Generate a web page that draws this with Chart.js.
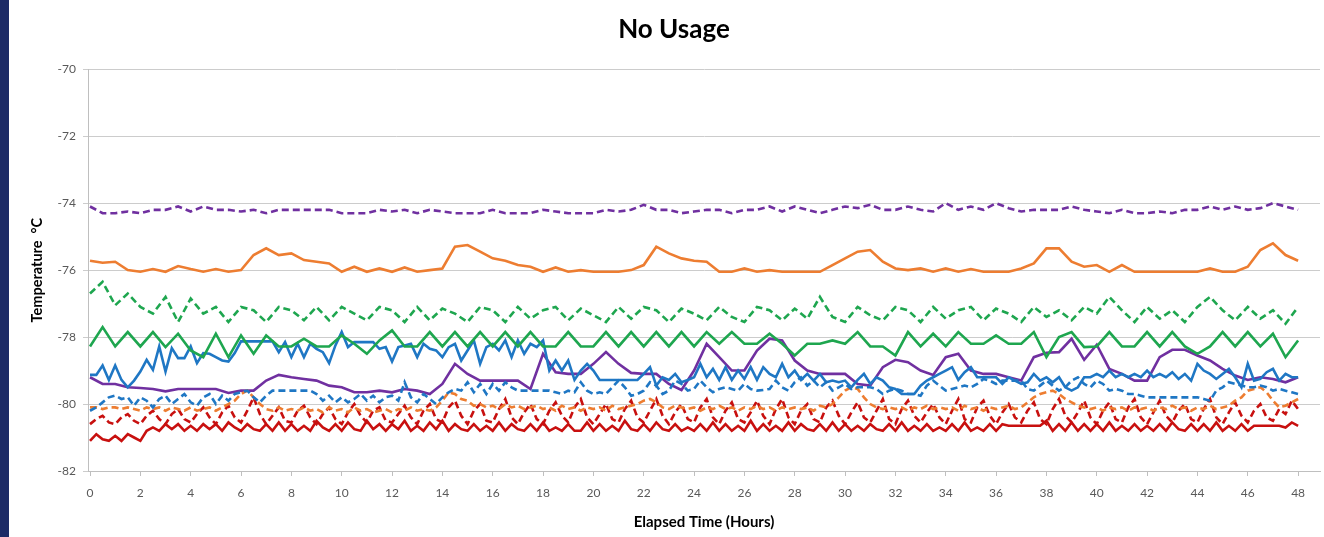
<!DOCTYPE html>
<html>
<head>
<meta charset="utf-8">
<script src="https://cdn.jsdelivr.net/npm/chart.js@4.4.1/dist/chart.umd.min.js"></script>
<style>
html, body { margin: 0; padding: 0; background: #fff; }
#wrap { position: relative; width: 1324px; height: 537px; overflow: hidden; }
#strip { position: absolute; left: 0; top: 0; width: 9px; height: 537px; background: #1c2b66; }
</style>
</head>
<body>
<div id="wrap">
  <canvas id="tempChart" width="1324" height="537"></canvas>
  <div id="strip"></div>
</div>
<script>
// x ticks (hours)
const hourTicks = [0, 2, 4, 6, 8, 10, 12, 14, 16, 18, 20, 22, 24, 26, 28, 30, 32, 34, 36, 38, 40, 42, 44, 46, 48];
const yTicks = [-82, -80, -78, -76, -74, -72, -70];

// series logged every 30 min (0 .. 48 h)
const purpleDash = [
  -74.1, -74.3, -74.3, -74.25, -74.3, -74.2, -74.2, -74.1, -74.25, -74.1,
  -74.2, -74.2, -74.25, -74.2, -74.3, -74.2, -74.2, -74.2, -74.2, -74.2,
  -74.3, -74.3, -74.3, -74.2, -74.25, -74.2, -74.3, -74.2, -74.25, -74.3,
  -74.3, -74.3, -74.2, -74.3, -74.3, -74.3, -74.2, -74.25, -74.3, -74.3,
  -74.3, -74.2, -74.25, -74.2, -74.05, -74.2, -74.2, -74.3, -74.25, -74.2,
  -74.2, -74.3, -74.2, -74.2, -74.1, -74.25, -74.1, -74.2, -74.3, -74.2,
  -74.1, -74.15, -74.05, -74.2, -74.2, -74.1, -74.2, -74.25, -74.0, -74.2,
  -74.1, -74.2, -74.0, -74.15, -74.25, -74.2, -74.2, -74.2, -74.1, -74.2,
  -74.25, -74.3, -74.2, -74.3, -74.3, -74.25, -74.3, -74.2, -74.2, -74.1,
  -74.2, -74.1, -74.2, -74.15, -74.0, -74.1, -74.2
];
const orangeSolid = [
  -75.72, -75.78, -75.75, -76.0, -76.05, -75.97, -76.05, -75.88, -75.97, -76.05,
  -75.97, -76.05, -76.0, -75.55, -75.35, -75.55, -75.5, -75.7, -75.75, -75.8,
  -76.05, -75.9, -76.05, -75.95, -76.05, -75.92, -76.05, -76.0, -75.95, -75.3,
  -75.25, -75.45, -75.65, -75.72, -75.85, -75.9, -76.05, -75.92, -76.05, -76.0,
  -76.05, -76.05, -76.05, -76.0, -75.85, -75.3, -75.5, -75.65, -75.72, -75.75,
  -76.05, -76.05, -75.95, -76.05, -76.0, -76.05, -76.05, -76.05, -76.05, -75.85,
  -75.65, -75.45, -75.4, -75.75, -75.95, -76.0, -75.95, -76.05, -75.95, -76.05,
  -75.97, -76.05, -76.05, -76.05, -75.95, -75.8, -75.35, -75.35, -75.75, -75.9,
  -75.85, -76.05, -75.85, -76.05, -76.05, -76.05, -76.05, -76.05, -76.05, -75.95,
  -76.05, -76.05, -75.9, -75.4, -75.2, -75.55, -75.72
];
const greenDash = [
  -76.7, -76.35, -77.05, -76.7, -77.1, -77.3, -76.8, -77.55, -76.85, -77.3,
  -77.1, -77.55, -77.1, -77.2, -77.55, -77.1, -77.2, -77.5, -77.1, -77.5,
  -77.1, -77.3, -77.5, -77.1, -77.2, -77.55, -77.1, -77.5, -77.15, -77.3,
  -77.55, -77.1, -77.2, -77.55, -77.1, -77.45, -77.2, -77.1, -77.5, -77.15,
  -77.35, -77.55, -77.1, -77.45, -77.1, -77.2, -77.55, -77.15, -77.3, -77.5,
  -77.1, -77.4, -77.55, -77.1, -77.2, -77.5, -77.15, -77.45, -76.8, -77.4,
  -77.55, -77.1, -77.35, -77.5, -77.1, -77.2, -77.55, -77.1, -77.45, -77.2,
  -77.1, -77.5, -77.15, -77.3, -77.55, -77.1, -77.4, -77.2, -77.5, -77.1,
  -77.3, -76.8, -77.2, -77.55, -77.1, -77.45, -77.2, -77.55, -77.1, -76.8,
  -77.2, -77.5, -77.1, -77.45, -77.2, -77.6, -77.1
];
const greenSolid = [
  -78.28, -77.7, -78.28, -77.85, -78.28, -77.85, -78.3, -77.9, -78.4, -78.6,
  -77.9, -78.6, -77.95, -78.5, -77.95, -78.28, -78.28, -78.05, -78.28, -78.28,
  -77.95, -78.2, -78.5, -78.1, -77.8, -78.28, -78.28, -77.85, -78.28, -77.85,
  -78.28, -77.85, -78.28, -77.85, -78.28, -77.85, -78.28, -78.28, -77.85, -78.28,
  -78.28, -77.85, -78.28, -77.85, -78.28, -77.85, -78.28, -77.85, -78.28, -77.85,
  -78.2, -77.85, -78.2, -78.2, -77.9, -78.2, -78.55, -78.2, -78.2, -78.1,
  -78.2, -77.85, -78.28, -78.28, -78.55, -77.85, -78.28, -77.9, -78.28, -77.85,
  -78.2, -78.2, -77.95, -78.2, -78.2, -77.85, -78.6, -78.0, -77.85, -78.3,
  -78.28, -77.85, -78.28, -78.28, -77.85, -78.28, -77.85, -78.28, -78.5, -78.28,
  -77.85, -78.28, -77.85, -78.28, -77.9, -78.6, -78.1
];
const purpleSolid = [
  -79.2, -79.4, -79.4, -79.5, -79.52, -79.55, -79.62, -79.55, -79.55, -79.55,
  -79.55, -79.67, -79.6, -79.6, -79.3, -79.13, -79.2, -79.25, -79.3, -79.45,
  -79.5, -79.65, -79.65, -79.6, -79.65, -79.55, -79.6, -79.7, -79.4, -78.8,
  -79.1, -79.3, -79.3, -79.3, -79.3, -79.55, -78.5, -79.05, -79.1, -79.1,
  -78.8, -78.45, -78.8, -79.07, -79.1, -79.1, -79.4, -79.58, -79.0, -78.2,
  -78.6, -79.0, -79.0, -78.4, -78.05, -78.1, -78.7, -79.0, -79.1, -79.1,
  -79.1, -79.4, -79.45, -78.9, -78.68, -78.75, -79.0, -79.13, -78.6, -78.5,
  -79.0, -79.1, -79.1, -79.2, -79.3, -78.6, -78.47, -78.45, -78.05, -78.68,
  -78.23, -78.95, -79.1, -79.3, -79.3, -78.6, -78.38, -78.38, -78.55, -78.7,
  -78.95, -79.15, -79.28, -79.2, -79.25, -79.35, -79.2
];

// series logged every 15 min (0 .. 48 h)
const blueSolid = [
  -79.13, -79.13, -78.85, -79.28, -78.85, -79.28, -79.5, -79.3,
  -79.03, -78.68, -78.98, -78.28, -79.03, -78.33, -78.63, -78.63,
  -78.28, -78.78, -78.48, -78.5, -78.6, -78.7, -78.73, -78.48,
  -78.13, -78.13, -78.13, -78.13, -78.13, -78.13, -78.45, -78.15,
  -78.6, -78.2, -78.6, -78.2, -78.35, -78.45, -78.78, -78.25,
  -77.85, -78.3, -78.15, -78.15, -78.15, -78.15, -78.35, -78.3,
  -78.73, -78.3, -78.25, -78.2, -78.6, -78.2, -78.35, -78.4,
  -78.6, -78.3, -78.2, -78.7, -78.4, -78.1, -78.8, -78.3,
  -78.2, -78.4, -78.1, -78.6, -78.1, -78.5, -78.2, -78.3,
  -78.1, -79.0, -78.7, -79.0, -78.7, -79.28, -79.0, -78.8,
  -79.0, -79.28, -79.28, -79.28, -79.28, -79.28, -79.28, -79.28,
  -79.1, -78.9, -79.45, -79.2, -79.28, -79.1, -79.35, -79.28,
  -79.2, -78.8, -79.2, -78.95, -79.28, -78.9, -79.28, -79.0,
  -79.25, -78.9, -79.28, -78.9, -79.1, -79.2, -78.8, -79.2,
  -79.0, -79.28, -79.1, -79.3, -79.1, -79.35, -79.3, -79.35,
  -79.3, -79.5, -79.28, -79.1, -79.4, -79.2, -79.3, -79.5,
  -79.55, -79.7, -79.7, -79.7, -79.45, -79.3, -79.2, -79.1,
  -79.0, -78.9, -79.28, -79.05, -78.9, -79.2, -79.2, -79.2,
  -79.2, -79.4, -79.2, -79.3, -79.4, -79.35, -79.1, -79.3,
  -79.2, -79.35, -79.2, -79.5, -79.6, -79.5, -79.2, -79.2,
  -79.1, -79.2, -79.0, -79.2, -79.1, -79.2, -79.1, -79.2,
  -79.0, -79.2, -79.1, -79.2, -79.05, -79.25, -79.1, -79.3,
  -78.8, -79.0, -79.1, -79.25, -79.1, -78.95, -79.2, -79.5,
  -78.8, -79.3, -79.25, -79.05, -78.95, -79.3, -79.1, -79.2,
  -79.2
];
const blueDash = [
  -80.2, -80.1, -79.95, -79.8, -79.75, -79.85, -79.8, -80.05,
  -79.8, -79.9, -80.1, -79.85, -79.75, -80.0, -79.85, -79.7,
  -79.95, -80.05, -79.8, -79.7, -80.0, -79.75, -79.9, -79.7,
  -79.65, -79.6, -79.8, -79.95, -79.75, -79.6, -79.6, -79.6,
  -79.6, -79.6, -79.6, -79.6, -79.7, -79.9, -79.75, -79.95,
  -79.8, -79.95, -79.85, -79.7, -79.9, -79.75, -79.95, -79.8,
  -79.75, -79.9, -79.35, -79.8, -79.95, -79.7, -79.85, -80.0,
  -79.8, -79.65, -79.55, -79.6, -79.35, -79.65, -79.4, -79.7,
  -79.4, -79.6, -79.35, -79.5, -79.6, -79.6, -79.6, -79.6,
  -79.6, -79.6, -79.65, -79.7, -79.6, -79.65, -79.35, -79.6,
  -79.7, -79.65, -79.7, -79.5, -79.3, -79.5, -79.75, -79.7,
  -79.6, -79.35, -79.45, -79.7, -79.6, -79.3, -79.4, -79.6,
  -79.55, -79.3, -79.5, -79.65, -79.55, -79.5, -79.55, -79.6,
  -79.4, -79.55, -79.6, -79.58, -79.55, -79.3, -79.5, -79.6,
  -79.35, -79.2, -79.45, -79.3, -79.5, -79.35, -79.6, -79.5,
  -79.4, -79.55, -79.5, -79.5, -79.5, -79.55, -79.7, -79.6,
  -79.55, -79.6, -79.7, -79.7, -79.75, -79.45, -79.3, -79.45,
  -79.6, -79.55, -79.5, -79.45, -79.5, -79.4, -79.25, -79.3,
  -79.4, -79.3, -79.3, -79.3, -79.3, -79.55, -79.6, -79.45,
  -79.3, -79.45, -79.6, -79.5, -79.3, -79.2, -79.4, -79.5,
  -79.3, -79.4, -79.6, -79.55, -79.6, -79.7, -79.7, -79.75,
  -79.8, -79.8, -79.8, -79.8, -79.8, -79.8, -79.8, -79.8,
  -79.8, -79.85, -79.9, -79.6, -79.5, -79.35, -79.4, -79.45,
  -79.5, -79.5, -79.45, -79.5, -79.6, -79.55, -79.6, -79.65,
  -79.7
];
const orangeDash = [
  -80.1, -80.1, -80.15, -80.1, -80.1, -80.15, -80.1, -80.15,
  -80.2, -80.1, -80.15, -80.1, -80.2, -80.1, -80.15, -80.2,
  -80.1, -80.2, -80.15, -80.1, -80.2, -80.1, -80.0, -79.9,
  -79.7, -79.6, -79.8, -80.0, -80.15, -80.2, -80.1, -80.2,
  -80.15, -80.2, -80.1, -80.2, -80.15, -80.25, -80.1, -80.2,
  -80.15, -80.25, -80.1, -80.2, -80.15, -80.25, -80.2, -80.15,
  -80.25, -80.15, -80.2, -80.1, -80.2, -80.15, -80.2, -80.1,
  -79.9, -79.65, -79.7, -79.85, -79.9, -80.05, -80.0, -80.1,
  -80.05, -80.15, -80.0, -80.1, -80.05, -80.15, -80.1, -80.05,
  -80.15, -80.1, -80.2, -80.05, -80.15, -80.1, -80.2, -80.1,
  -80.15, -80.1, -80.2, -80.05, -80.15, -80.1, -80.05, -80.0,
  -79.9, -79.85, -79.95, -80.1, -80.15, -80.05, -80.1, -80.15,
  -80.1, -80.2, -80.1, -80.15, -80.05, -80.15, -80.1, -80.2,
  -80.1, -80.15, -80.05, -80.15, -80.1, -80.2, -80.1, -80.15,
  -80.1, -80.15, -80.1, -80.2, -80.05, -80.1, -80.0, -79.8,
  -79.6, -79.5, -79.55, -79.8, -80.0, -80.1, -80.15, -80.1,
  -80.15, -80.1, -80.2, -80.1, -80.15, -80.05, -80.15, -80.1,
  -80.15, -80.1, -80.2, -80.05, -80.15, -80.1, -80.2, -80.1,
  -80.15, -80.1, -80.05, -80.15, -80.1, -79.95, -79.8, -79.7,
  -79.65, -79.6, -79.7, -79.85, -79.95, -80.05, -80.1, -80.15,
  -80.1, -80.2, -80.1, -80.15, -80.1, -80.2, -80.1, -80.15,
  -80.1, -80.2, -80.1, -80.15, -80.05, -80.15, -80.1, -80.2,
  -80.1, -80.15, -80.05, -80.15, -80.1, -80.05, -79.9, -79.8,
  -79.6, -79.55, -79.5, -79.65, -79.9, -80.1, -80.05, -79.95,
  -79.85
];
const redDash = [
  -80.6, -80.45, -80.35, -80.55, -80.6, -80.4, -80.3, -80.5,
  -80.6, -80.35, -80.2, -80.45, -80.6, -80.3, -80.15, -80.45,
  -80.55, -80.3, -80.1, -80.4, -80.6, -80.25, -80.05, -80.4,
  -80.55, -80.2, -79.8, -80.3, -80.6, -80.35, -80.1, -80.5,
  -80.55, -80.2, -80.05, -80.4, -80.6, -80.3, -80.1, -80.45,
  -80.6, -80.25, -80.0, -80.35, -80.55, -80.2, -80.1, -80.5,
  -80.55, -80.3, -80.05, -80.4, -80.6, -80.2, -80.0, -80.45,
  -80.55, -80.1, -79.9, -80.35, -80.6, -80.2, -80.0, -80.5,
  -80.55, -80.15, -79.85, -80.4, -80.6, -80.25, -80.0, -80.45,
  -80.6, -80.2, -79.95, -80.35, -80.55, -80.1, -79.85, -80.4,
  -80.6, -80.3, -80.0, -80.45, -80.55, -80.15, -79.9, -80.4,
  -80.55, -80.2, -79.85, -80.35, -80.6, -80.25, -80.0, -80.45,
  -80.55, -80.1, -79.85, -80.4, -80.6, -80.2, -79.95, -80.45,
  -80.55, -80.25, -79.9, -80.35, -80.6, -80.15, -79.85, -80.4,
  -80.6, -80.2, -80.0, -80.45, -80.55, -80.1, -79.9, -80.35,
  -80.6, -80.25, -79.95, -80.4, -80.55, -80.2, -79.85, -80.45,
  -80.6, -80.15, -79.9, -80.35, -80.55, -80.25, -80.0, -80.4,
  -80.6, -80.2, -79.85, -80.45, -80.55, -80.1, -79.9, -80.35,
  -80.6, -80.25, -80.0, -80.4, -80.55, -80.2, -79.95, -80.45,
  -80.6, -80.15, -79.85, -80.35, -80.55, -80.25, -79.9, -80.4,
  -80.6, -80.2, -79.95, -80.45, -80.55, -80.1, -79.85, -80.4,
  -80.6, -80.25, -79.9, -80.35, -80.55, -80.2, -80.0, -80.45,
  -80.55, -80.15, -79.85, -80.4, -80.6, -80.25, -79.95, -80.35,
  -80.55, -80.2, -80.0, -80.4, -80.5, -80.15, -80.3, -79.9,
  -80.15
];
const redSolid = [
  -81.1, -80.9, -81.05, -81.1, -80.95, -81.1, -80.9, -81.0,
  -81.1, -80.8, -80.7, -80.8, -80.6, -80.75, -80.6, -80.8,
  -80.65, -80.8, -80.6, -80.75, -80.6, -80.8, -80.55, -80.7,
  -80.8, -80.6, -80.75, -80.8, -80.6, -80.8, -80.55, -80.8,
  -80.6, -80.8, -80.65, -80.8, -80.5, -80.7, -80.8, -80.6,
  -80.8, -80.55, -80.75, -80.8, -80.5, -80.75, -80.6, -80.8,
  -80.6, -80.75, -80.5, -80.8, -80.65, -80.8, -80.55, -80.75,
  -80.5, -80.8, -80.6, -80.75, -80.8, -80.6, -80.8, -80.65,
  -80.8, -80.55, -80.8, -80.6, -80.75, -80.8, -80.6, -80.8,
  -80.55, -80.8, -80.7, -80.8, -80.6, -80.8, -80.8, -80.55,
  -80.8, -80.6, -80.8, -80.65, -80.8, -80.5, -80.75, -80.8,
  -80.6, -80.8, -80.55, -80.75, -80.8, -80.6, -80.8, -80.7,
  -80.8, -80.6, -80.8, -80.55, -80.8, -80.6, -80.8, -80.65,
  -80.8, -80.5, -80.8, -80.6, -80.8, -80.65, -80.8, -80.55,
  -80.8, -80.6, -80.75, -80.8, -80.6, -80.8, -80.55, -80.8,
  -80.6, -80.8, -80.65, -80.8, -80.6, -80.75, -80.8, -80.6,
  -80.8, -80.55, -80.8, -80.65, -80.8, -80.6, -80.8, -80.7,
  -80.8, -80.6, -80.8, -80.55, -80.8, -80.7, -80.8, -80.6,
  -80.8, -80.6, -80.65, -80.65, -80.65, -80.65, -80.65, -80.65,
  -80.5, -80.8, -80.6, -80.8, -80.55, -80.8, -80.6, -80.8,
  -80.6, -80.8, -80.55, -80.8, -80.65, -80.8, -80.6, -80.8,
  -80.65, -80.8, -80.6, -80.8, -80.55, -80.75, -80.8, -80.6,
  -80.8, -80.6, -80.8, -80.55, -80.8, -80.65, -80.8, -80.6,
  -80.8, -80.65, -80.65, -80.65, -80.65, -80.65, -80.7, -80.55,
  -80.65
];

// pair each reading with its sample time
function toPoints(values, stepHours) {
    return values.map((v, i) => ({ x: i * stepHours, y: v }));
}

function series(values, stepHours, color, dashed) {
    return {
        data: toPoints(values, stepHours),
        borderColor: color,
        backgroundColor: color,
        borderWidth: 2.6,
        borderDash: dashed ? [7, 4] : [],
        pointRadius: 0,
        fill: false,
        tension: 0
    };
}

Chart.defaults.font.family = 'Lato, "Open Sans", sans-serif';
Chart.defaults.color = '#595959';

const ctx = document.getElementById('tempChart').getContext('2d');
const tempChart = new Chart(ctx, {
    type: 'line',
    data: {
        datasets: [
            series(purpleDash, 0.5, '#7030a0', true),
            series(orangeSolid, 0.5, '#ed7d31', false),
            series(greenDash, 0.5, '#1ea64f', true),
            series(greenSolid, 0.5, '#1ea64f', false),
            series(blueDash, 0.25, '#1f77c4', true),
            series(orangeDash, 0.25, '#ed7d31', true),
            series(redDash, 0.25, '#c8100f', true),
            series(blueSolid, 0.25, '#1f77c4', false),
            series(purpleSolid, 0.5, '#7030a0', false),
            series(redSolid, 0.25, '#c8100f', false)
        ]
    },
    options: {
        responsive: false,
        animation: false,
        events: [],
        layout: { padding: { left: 28, right: 4, top: 0, bottom: 0 } },
        plugins: {
            legend: { display: false },
            tooltip: { enabled: false },
            title: {
                display: true,
                text: 'No Usage',
                color: '#000',
                font: { size: 26, weight: 'bold' },
                padding: { top: 14, bottom: 24 }
            }
        },
        scales: {
            x: {
                type: 'linear',
                min: -0.08,
                max: 48.87,
                afterBuildTicks: (scale) => {
                    scale.ticks = hourTicks.map(v => ({ value: v }));
                },
                afterFit: (scale) => { scale.height = 66; },
                ticks: {
                    font: { size: 12 },
                    padding: 10,
                    maxRotation: 0,
                    autoSkip: false
                },
                grid: {
                    drawOnChartArea: false,
                    drawTicks: true,
                    tickLength: 5,
                    color: '#bfbfbf'
                },
                border: { display: true, color: '#bfbfbf' },
                title: {
                    display: true,
                    text: 'Elapsed Time (Hours)',
                    color: '#000',
                    font: { size: 15, weight: 'bold' },
                    padding: { top: 0, bottom: 6 }
                }
            },
            y: {
                min: -82,
                max: -70,
                afterBuildTicks: (scale) => {
                    scale.ticks = yTicks.map(v => ({ value: v }));
                },
                afterFit: (scale) => { scale.width = 60; },
                ticks: {
                    font: { size: 12 },
                    padding: 7
                },
                grid: {
                    color: '#cccccc',
                    lineWidth: 1,
                    drawTicks: true,
                    tickLength: 5
                },
                border: { display: true, color: '#bfbfbf' },
                title: {
                    display: true,
                    text: 'Temperature  °C',
                    color: '#000',
                    font: { size: 14.5, weight: 'bold' },
                    padding: { top: 1, bottom: 0 }
                }
            }
        }
    }
});
</script>
</body>
</html>
